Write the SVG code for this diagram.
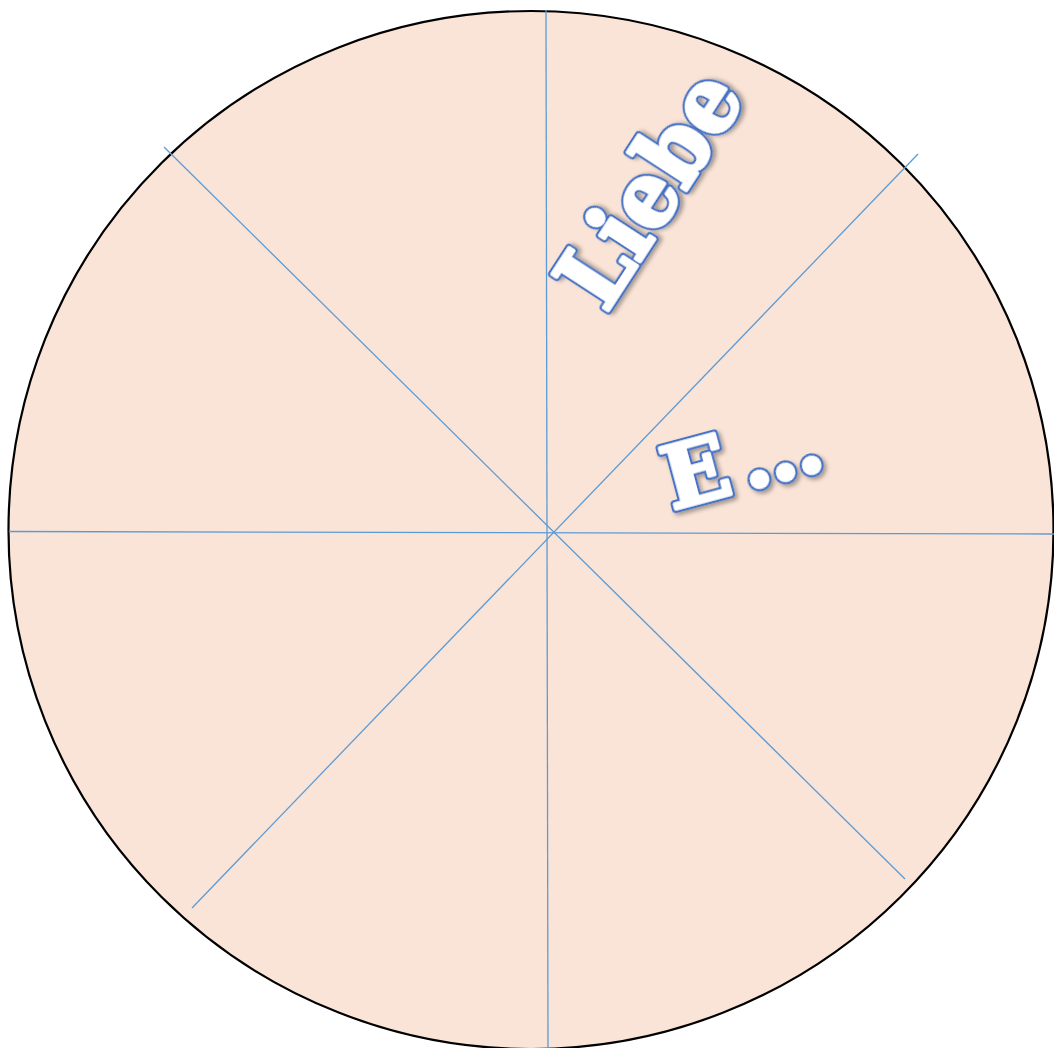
<svg xmlns="http://www.w3.org/2000/svg" width="1054" height="1048" viewBox="0 0 1054 1048">
<style>
.spoke{stroke:#5B9BD5;stroke-width:1.3;fill:none}
.word{font-family:"DejaVu Serif","Liberation Serif",serif;font-weight:bold;stroke-linejoin:round}
.outer{fill:#4472C4;stroke:#4472C4;stroke-width:8}
.inner{fill:#ffffff;stroke:#ffffff;stroke-width:3.5}
</style>
<defs>
<filter id="sh" x="-20%" y="-20%" width="140%" height="140%">
<feDropShadow dx="2" dy="3" stdDeviation="2" flood-color="#000" flood-opacity="0.35"/>
</filter>
</defs>
<rect width="1054" height="1048" fill="#ffffff"/>
<g id="disc">
<ellipse cx="531" cy="530" rx="522.5" ry="519" fill="#FAE4D7" stroke="#000" stroke-width="2.2"/>
</g>
<g id="connectors">
<line class="spoke" x1="546" y1="10" x2="548" y2="1048"/>
<line class="spoke" x1="9" y1="531.5" x2="1054" y2="534"/>
<line class="spoke" x1="164" y1="147" x2="905" y2="879"/>
<line class="spoke" x1="918" y1="154" x2="192" y2="908"/>
</g>
<g id="liebe" filter="url(#sh)" transform="translate(606,314) rotate(-57)">
<text class="word outer" font-size="91" textLength="258" lengthAdjust="spacingAndGlyphs">Liebe</text>
<text class="word inner" font-size="91" textLength="258" lengthAdjust="spacingAndGlyphs">Liebe</text>
</g>
<g id="e" filter="url(#sh)" transform="translate(672,510) rotate(-15)">
<text class="word outer" font-size="86" dx="0 12 -3 -3">E...</text>
<text class="word inner" font-size="86" dx="0 12 -3 -3">E...</text>
</g>
</svg>
